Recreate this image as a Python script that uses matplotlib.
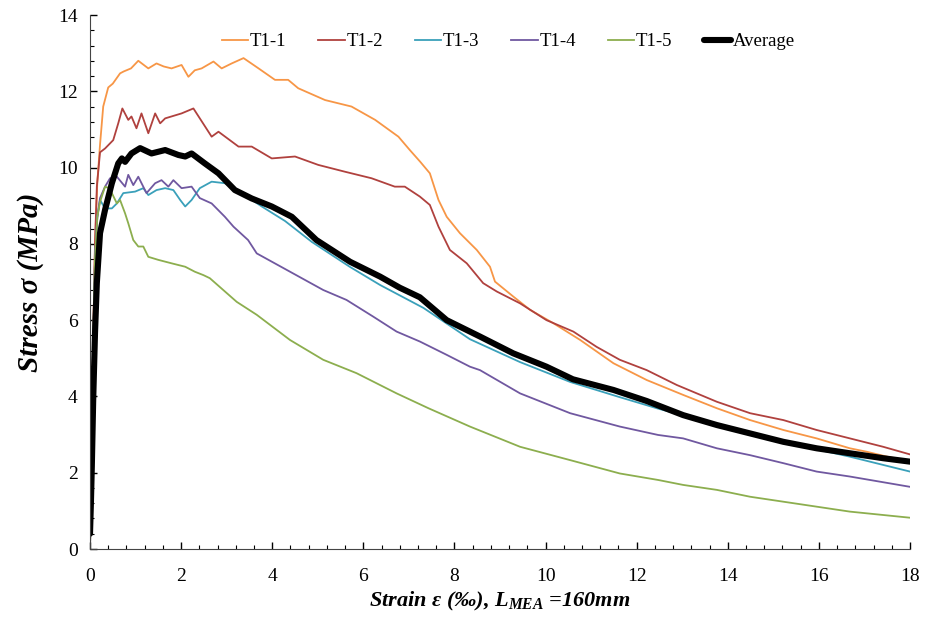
import matplotlib
matplotlib.use("Agg")
import matplotlib.pyplot as plt
from matplotlib.ticker import MultipleLocator

plt.rcParams['font.family'] = ['Liberation Serif', 'DejaVu Serif']
plt.rcParams['mathtext.fontset'] = 'custom'
plt.rcParams['mathtext.it'] = 'Liberation Serif:italic:bold'
plt.rcParams['mathtext.rm'] = 'Liberation Serif:bold'

# strain (per mille) / stress (MPa)
t1_1_x = [0, 0.03, 0.07, 0.11, 0.16, 0.22, 0.29, 0.4, 0.5, 0.66,
          0.74, 0.9, 1.06, 1.28, 1.46, 1.62, 1.79, 2.01, 2.16, 2.3,
          2.45, 2.71, 2.89, 3.11, 3.37, 3.7, 4.06, 4.35, 4.57, 5.16,
          5.74, 6.26, 6.77, 7.02, 7.25, 7.46, 7.65, 7.83, 8.12, 8.49,
          8.78, 8.89, 9.29, 9.66, 10.17, 10.76, 11.49, 12.22, 13.02, 13.76,
          14.49, 15.22, 15.95, 16.68, 17.05, 17.5, 18]
t1_1_y = [0, 2.5, 5.5, 8.0, 9.6, 10.6, 11.6, 12.1, 12.2, 12.47,
          12.52, 12.6, 12.8, 12.6, 12.73, 12.65, 12.6, 12.69, 12.38, 12.55,
          12.6, 12.78, 12.6, 12.73, 12.87, 12.6, 12.3, 12.3, 12.08, 11.77,
          11.6, 11.25, 10.81, 10.46, 10.15, 9.85, 9.15, 8.71, 8.28, 7.84,
          7.4, 7.01, 6.62, 6.27, 5.92, 5.48, 4.87, 4.43, 4.04, 3.69,
          3.38, 3.12, 2.9, 2.64, 2.55, 2.42, 2.3]

t1_2_x = [0, 0.03, 0.07, 0.11, 0.15, 0.22, 0.33, 0.51, 0.62, 0.71,
          0.84, 0.91, 1.02, 1.13, 1.28, 1.43, 1.54, 1.65, 2.01, 2.27,
          2.67, 2.82, 3.26, 3.55, 3.99, 4.5, 5.01, 5.6, 6.18, 6.69,
          6.91, 7.24, 7.46, 7.65, 7.9, 8.27, 8.63, 8.93, 9.44, 10.02,
          10.61, 11.12, 11.63, 12.22, 12.88, 13.76, 14.49, 15.22, 15.95, 16.68,
          17.41, 18]
t1_2_y = [0, 2.5, 5.5, 8.0, 9.5, 10.4, 10.5, 10.72, 11.16, 11.55,
          11.25, 11.34, 11.03, 11.42, 10.9, 11.42, 11.16, 11.29, 11.42, 11.55,
          10.81, 10.94, 10.55, 10.55, 10.24, 10.29, 10.07, 9.89, 9.72, 9.5,
          9.5, 9.24, 9.02, 8.45, 7.84, 7.49, 6.97, 6.75, 6.44, 6.0,
          5.7, 5.3, 4.96, 4.69, 4.3, 3.86, 3.56, 3.38, 3.12, 2.9,
          2.68, 2.48]

t1_3_x = [0, 0.03, 0.07, 0.11, 0.16, 0.22, 0.33, 0.4, 0.48, 0.59,
          0.73, 0.99, 1.17, 1.28, 1.46, 1.65, 1.83, 1.98, 2.09, 2.23,
          2.41, 2.67, 2.96, 3.33, 3.77, 4.28, 4.87, 5.7, 6.37, 7.32,
          8.34, 9.44, 10.54, 11.63, 12.47, 13.5, 14.5, 15.36, 16.68, 18]
t1_3_y = [0, 2.4, 5.3, 7.6, 8.7, 9.15, 8.93, 8.93, 8.93, 9.06,
          9.33, 9.37, 9.46, 9.28, 9.41, 9.46, 9.41, 9.15, 8.98, 9.15,
          9.46, 9.63, 9.59, 9.33, 8.98, 8.6, 8.05, 7.4, 6.92, 6.32,
          5.5, 4.9, 4.38, 3.98, 3.68, 3.35, 3.0, 2.77, 2.42, 2.03]

t1_4_x = [0, 0.03, 0.07, 0.11, 0.16, 0.22, 0.33, 0.44, 0.59, 0.77,
          0.84, 0.95, 1.06, 1.24, 1.43, 1.57, 1.72, 1.83, 2.01, 2.23,
          2.41, 2.67, 2.96, 3.15, 3.47, 3.66, 4.39, 5.12, 5.63, 6.22,
          6.73, 7.24, 7.83, 8.34, 8.56, 9.44, 10.54, 11.63, 12.47, 13.02,
          13.76, 14.49, 15.22, 15.95, 16.68, 18]
t1_4_y = [0, 2.4, 5.3, 7.6, 8.7, 9.2, 9.5, 9.72, 9.76, 9.5,
          9.81, 9.54, 9.76, 9.33, 9.59, 9.67, 9.5, 9.67, 9.46, 9.5,
          9.2, 9.06, 8.71, 8.45, 8.1, 7.75, 7.27, 6.79, 6.53, 6.09,
          5.7, 5.44, 5.09, 4.78, 4.69, 4.08, 3.56, 3.21, 2.99, 2.9,
          2.64, 2.46, 2.25, 2.03, 1.9, 1.63]

t1_5_x = [0, 0.03, 0.07, 0.11, 0.16, 0.22, 0.33, 0.44, 0.48, 0.59,
          0.66, 0.77, 0.84, 0.95, 1.06, 1.17, 1.28, 1.5, 1.79, 2.09,
          2.3, 2.49, 2.63, 3.22, 3.66, 4.39, 5.12, 5.85, 6.73, 7.43,
          8.34, 9.44, 10.54, 11.63, 12.47, 13.02, 13.76, 14.49, 15.22, 15.95,
          16.68, 18]
t1_5_y = [0, 2.4, 5.3, 7.6, 8.7, 9.1, 9.5, 9.45, 9.33, 9.06,
          9.15, 8.8, 8.54, 8.1, 7.93, 7.93, 7.66, 7.58, 7.49, 7.4,
          7.27, 7.18, 7.1, 6.48, 6.14, 5.48, 4.96, 4.61, 4.08, 3.69,
          3.21, 2.68, 2.33, 1.98, 1.81, 1.68, 1.55, 1.37, 1.24, 1.11,
          0.98, 0.82]

avg_x = [0, 0.02, 0.04, 0.07, 0.11, 0.15, 0.22, 0.33, 0.48, 0.62,
         0.7, 0.77, 0.91, 1.1, 1.35, 1.65, 1.94, 2.09, 2.23, 2.52,
         2.82, 3.18, 3.55, 3.99, 4.43, 4.97, 5.71, 6.37, 6.8, 7.24,
         7.83, 8.56, 9.29, 10.02, 10.6, 11.49, 12.22, 13.02, 13.76, 14.49,
         15.22, 15.95, 16.68, 17.41, 18]
avg_y = [0.4, 1.2, 2.16, 3.9, 5.66, 6.97, 8.28, 8.89, 9.59, 10.11,
         10.24, 10.15, 10.37, 10.51, 10.37, 10.46, 10.33, 10.29, 10.37, 10.11,
         9.85, 9.41, 9.19, 8.98, 8.71, 8.1, 7.53, 7.14, 6.85, 6.6,
         6.0, 5.57, 5.13, 4.78, 4.45, 4.17, 3.88, 3.51, 3.25, 3.03,
         2.81, 2.64, 2.51, 2.38, 2.29]

labels = ['T1-1', 'T1-2', 'T1-3', 'T1-4', 'T1-5', 'Average']
colors = ['#F79646', '#B0413E', '#3AA0BA', '#7058A0', '#8CAE4E', 'black']

fig = plt.figure(figsize=(9.25, 6.25), dpi=100)
ax = fig.add_axes([0.0973, 0.1216, 0.8865, 0.8544])

series = [(t1_1_x, t1_1_y), (t1_2_x, t1_2_y), (t1_3_x, t1_3_y),
          (t1_4_x, t1_4_y), (t1_5_x, t1_5_y)]
for (xs, ys), lab, c in zip(series, labels[:5], colors[:5]):
    ax.plot(xs, ys, color=c, lw=1.3, label=lab)
ax.plot(avg_x, avg_y, color='black', lw=4.4, label='Average',
        solid_capstyle='round', solid_joinstyle='round')

ax.set_xlim(0, 18)
ax.set_ylim(0, 14)
ax.xaxis.set_major_locator(MultipleLocator(2))
ax.xaxis.set_minor_locator(MultipleLocator(0.4))
ax.yaxis.set_major_locator(MultipleLocator(2))
ax.yaxis.set_minor_locator(MultipleLocator(0.4))
ax.tick_params(which='both', direction='in', labelsize=14, color='black')
ax.tick_params(which='major', length=5, width=1)
ax.tick_params(which='minor', length=3, width=0.8)
ax.tick_params(axis='x', pad=14)
ax.tick_params(axis='y', pad=9)
for s in ['top', 'right']:
    ax.spines[s].set_visible(False)
for s in ['left', 'bottom']:
    ax.spines[s].set_color('#444444')

ax.set_xlabel(r'Strain ε (‰), L$_{MEA}$ =160mm', fontsize=16,
              fontweight='bold', fontstyle='italic', labelpad=3)
ax.set_ylabel('Stress σ (MPa)', fontsize=21, fontweight='bold',
              fontstyle='italic', labelpad=10)

ax.legend(loc='center', bbox_to_anchor=(0.51, 0.95), ncol=6, frameon=False,
          fontsize=13.5, handlelength=1.4, handletextpad=0.1,
          columnspacing=1.7)

fig.savefig('out.png', dpi=100)
